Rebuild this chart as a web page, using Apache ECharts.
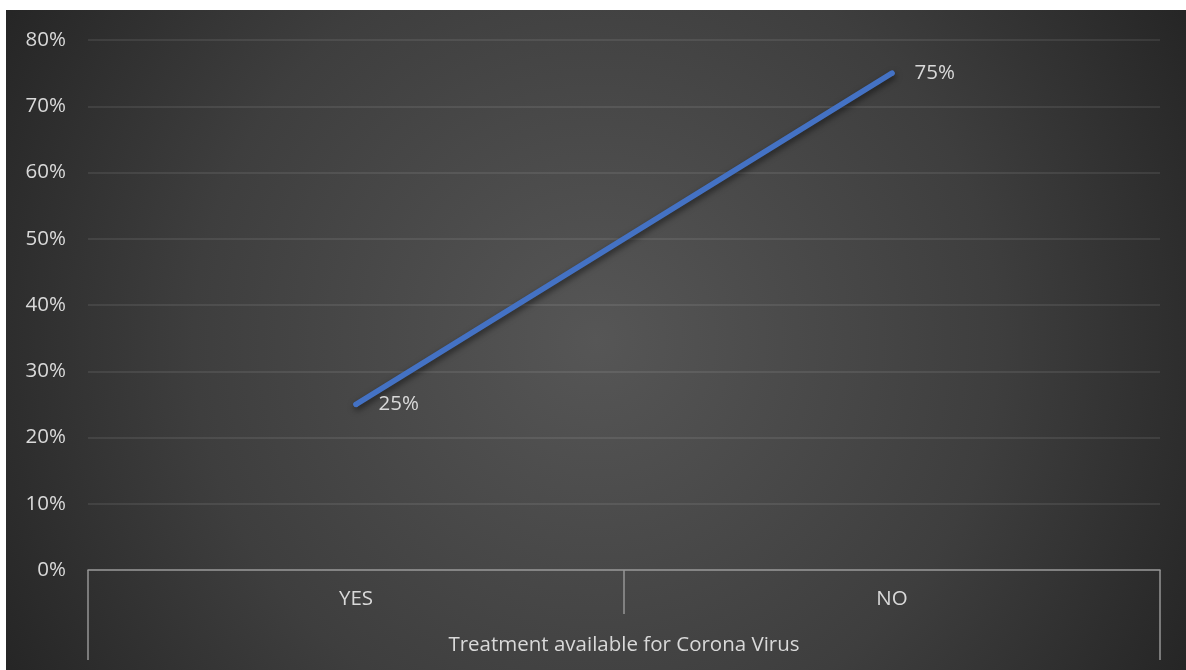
<!DOCTYPE html>
<html>
<head>
<meta charset="utf-8">
<script src="https://cdn.jsdelivr.net/npm/echarts@6/dist/echarts.min.js"></script>
<style>
html,body{margin:0;padding:0;background:#ffffff;}
#chart{position:absolute;left:6px;top:10px;width:1180px;height:660px;}
</style>
</head>
<body>
<div id="chart"></div>
<script>
const categories = ['YES', 'NO'];
const values = [25, 75];
const groupLabel = ['Treatment available for Corona Virus'];
const yTicks = { min: 0, max: 80, interval: 10 };

const chart = echarts.init(document.getElementById('chart'));
const textColor = '#d9d9d9';
const fontFamily = '"Open Sans", "Noto Sans", sans-serif';
const fs = 20.5;
chart.setOption({
  animation: false,
  backgroundColor: {
    type: 'radial', x: 0.5, y: 0.5, r: 1.05,
    colorStops: [
      { offset: 0, color: '#565656' },
      { offset: 0.58, color: '#3e3e3e' },
      { offset: 1, color: '#242424' }
    ]
  },
  grid: { left: 82, right: 26, top: 30, bottom: 100 },
  xAxis: [
    {
      type: 'category',
      data: categories,
      boundaryGap: true,
      position: 'bottom',
      axisLine: { show: true, lineStyle: { color: '#959595', width: 1.5 } },
      axisTick: { show: true, length: 44, alignWithLabel: false, lineStyle: { color: '#959595', width: 1.5 } },
      axisLabel: { color: textColor, fontSize: fs, fontFamily: fontFamily, margin: 19 },
      splitLine: { show: false }
    },
    {
      type: 'category',
      data: groupLabel,
      boundaryGap: true,
      position: 'bottom',
      axisLine: { show: false },
      axisTick: { show: true, length: 90, lineStyle: { color: '#959595', width: 1.5 } },
      axisLabel: { color: textColor, fontSize: fs, fontFamily: fontFamily, margin: 65 },
      splitLine: { show: false }
    }
  ],
  yAxis: {
    type: 'value',
    min: yTicks.min, max: yTicks.max, interval: yTicks.interval,
    axisLine: { show: false },
    axisTick: { show: false },
    axisLabel: { color: textColor, fontSize: fs, fontFamily: fontFamily, margin: 22, formatter: '{value}%' },
    splitLine: { show: true, lineStyle: { color: 'rgba(255,255,255,0.11)', width: 1.5 } }
  },
  series: [{
    type: 'line',
    xAxisIndex: 0,
    data: values,
    symbol: 'circle',
    symbolSize: 5,
    itemStyle: { color: '#4472C4' },
    lineStyle: {
      color: '#4472C4', width: 5.5, cap: 'round',
      shadowColor: 'rgba(0,0,0,0.55)', shadowBlur: 6, shadowOffsetX: 1, shadowOffsetY: 3
    },
    label: {
      show: true, position: 'right', distance: 20,
      color: textColor, fontSize: fs, fontFamily: fontFamily,
      formatter: p => p.value + '%'
    }
  }]
});
</script>
</body>
</html>
